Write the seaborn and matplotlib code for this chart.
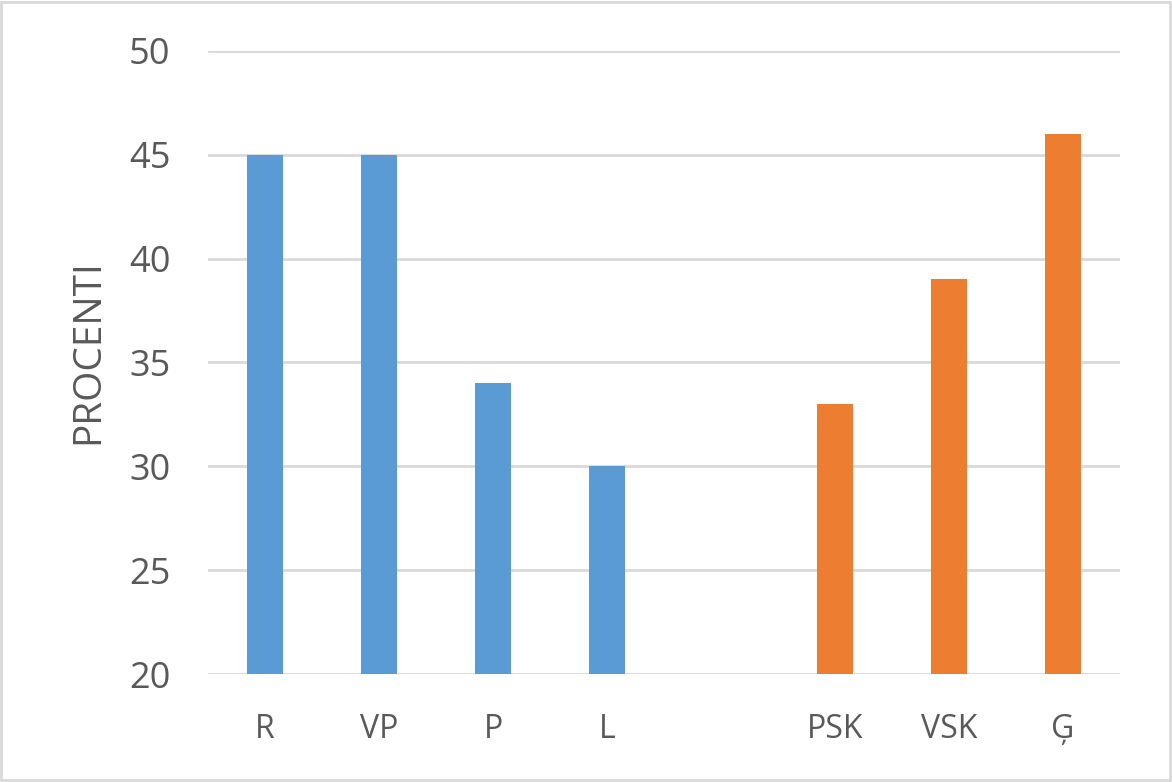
import pandas as pd
import seaborn as sns
import matplotlib.pyplot as plt
from matplotlib.patches import Rectangle

# data
categories = ["R", "VP", "P", "L", "", "PSK", "VSK", "Ģ"]
labels = ["R", "VP", "P", "L", "PSK", "VSK", "Ģ"]
values = [45, 45, 34, 30, 33, 39, 46]
groups = ["a", "a", "a", "a", "b", "b", "b"]

df = pd.DataFrame({"label": labels, "value": values, "group": groups})

sns.set_theme(style="white")
plt.rcParams["font.family"] = ["Open Sans", "DejaVu Sans"]

fig = plt.figure(figsize=(11.72, 7.82), dpi=100)
ax = fig.add_axes([0.1775, 0.1381, 0.7782, 0.7967])

sns.barplot(data=df, x="label", y="value", hue="group", order=categories,
            palette={"a": "#5B9BD5", "b": "#ED7D31"}, dodge=False, saturation=1,
            width=0.32, legend=False, linewidth=0, ax=ax, zorder=3)

ax.set_ylim(20, 50)
ax.set_xlim(-0.5, len(categories) - 0.5)
ax.set_yticks(range(20, 51, 5))
ax.yaxis.grid(True, color="#D9D9D9", linewidth=2, zorder=0)
ax.set_axisbelow(True)
for s in ax.spines.values():
    s.set_visible(False)

ax.tick_params(axis="y", labelsize=26, labelcolor="#595959", length=0, pad=27)
ax.tick_params(axis="x", labelsize=23, labelcolor="#595959", length=0, pad=28)
ax.set_xlabel("")
ax.set_ylabel("PROCENTI", fontsize=28, color="#595959")
ax.yaxis.set_label_coords(-0.110, 0.517)

# border around figure
fig.patches.append(Rectangle((0.001, 0.002), 0.997, 0.996, transform=fig.transFigure,
                             fill=False, edgecolor="#D9D9D9", linewidth=2))

fig.savefig("out.png", dpi=100)
